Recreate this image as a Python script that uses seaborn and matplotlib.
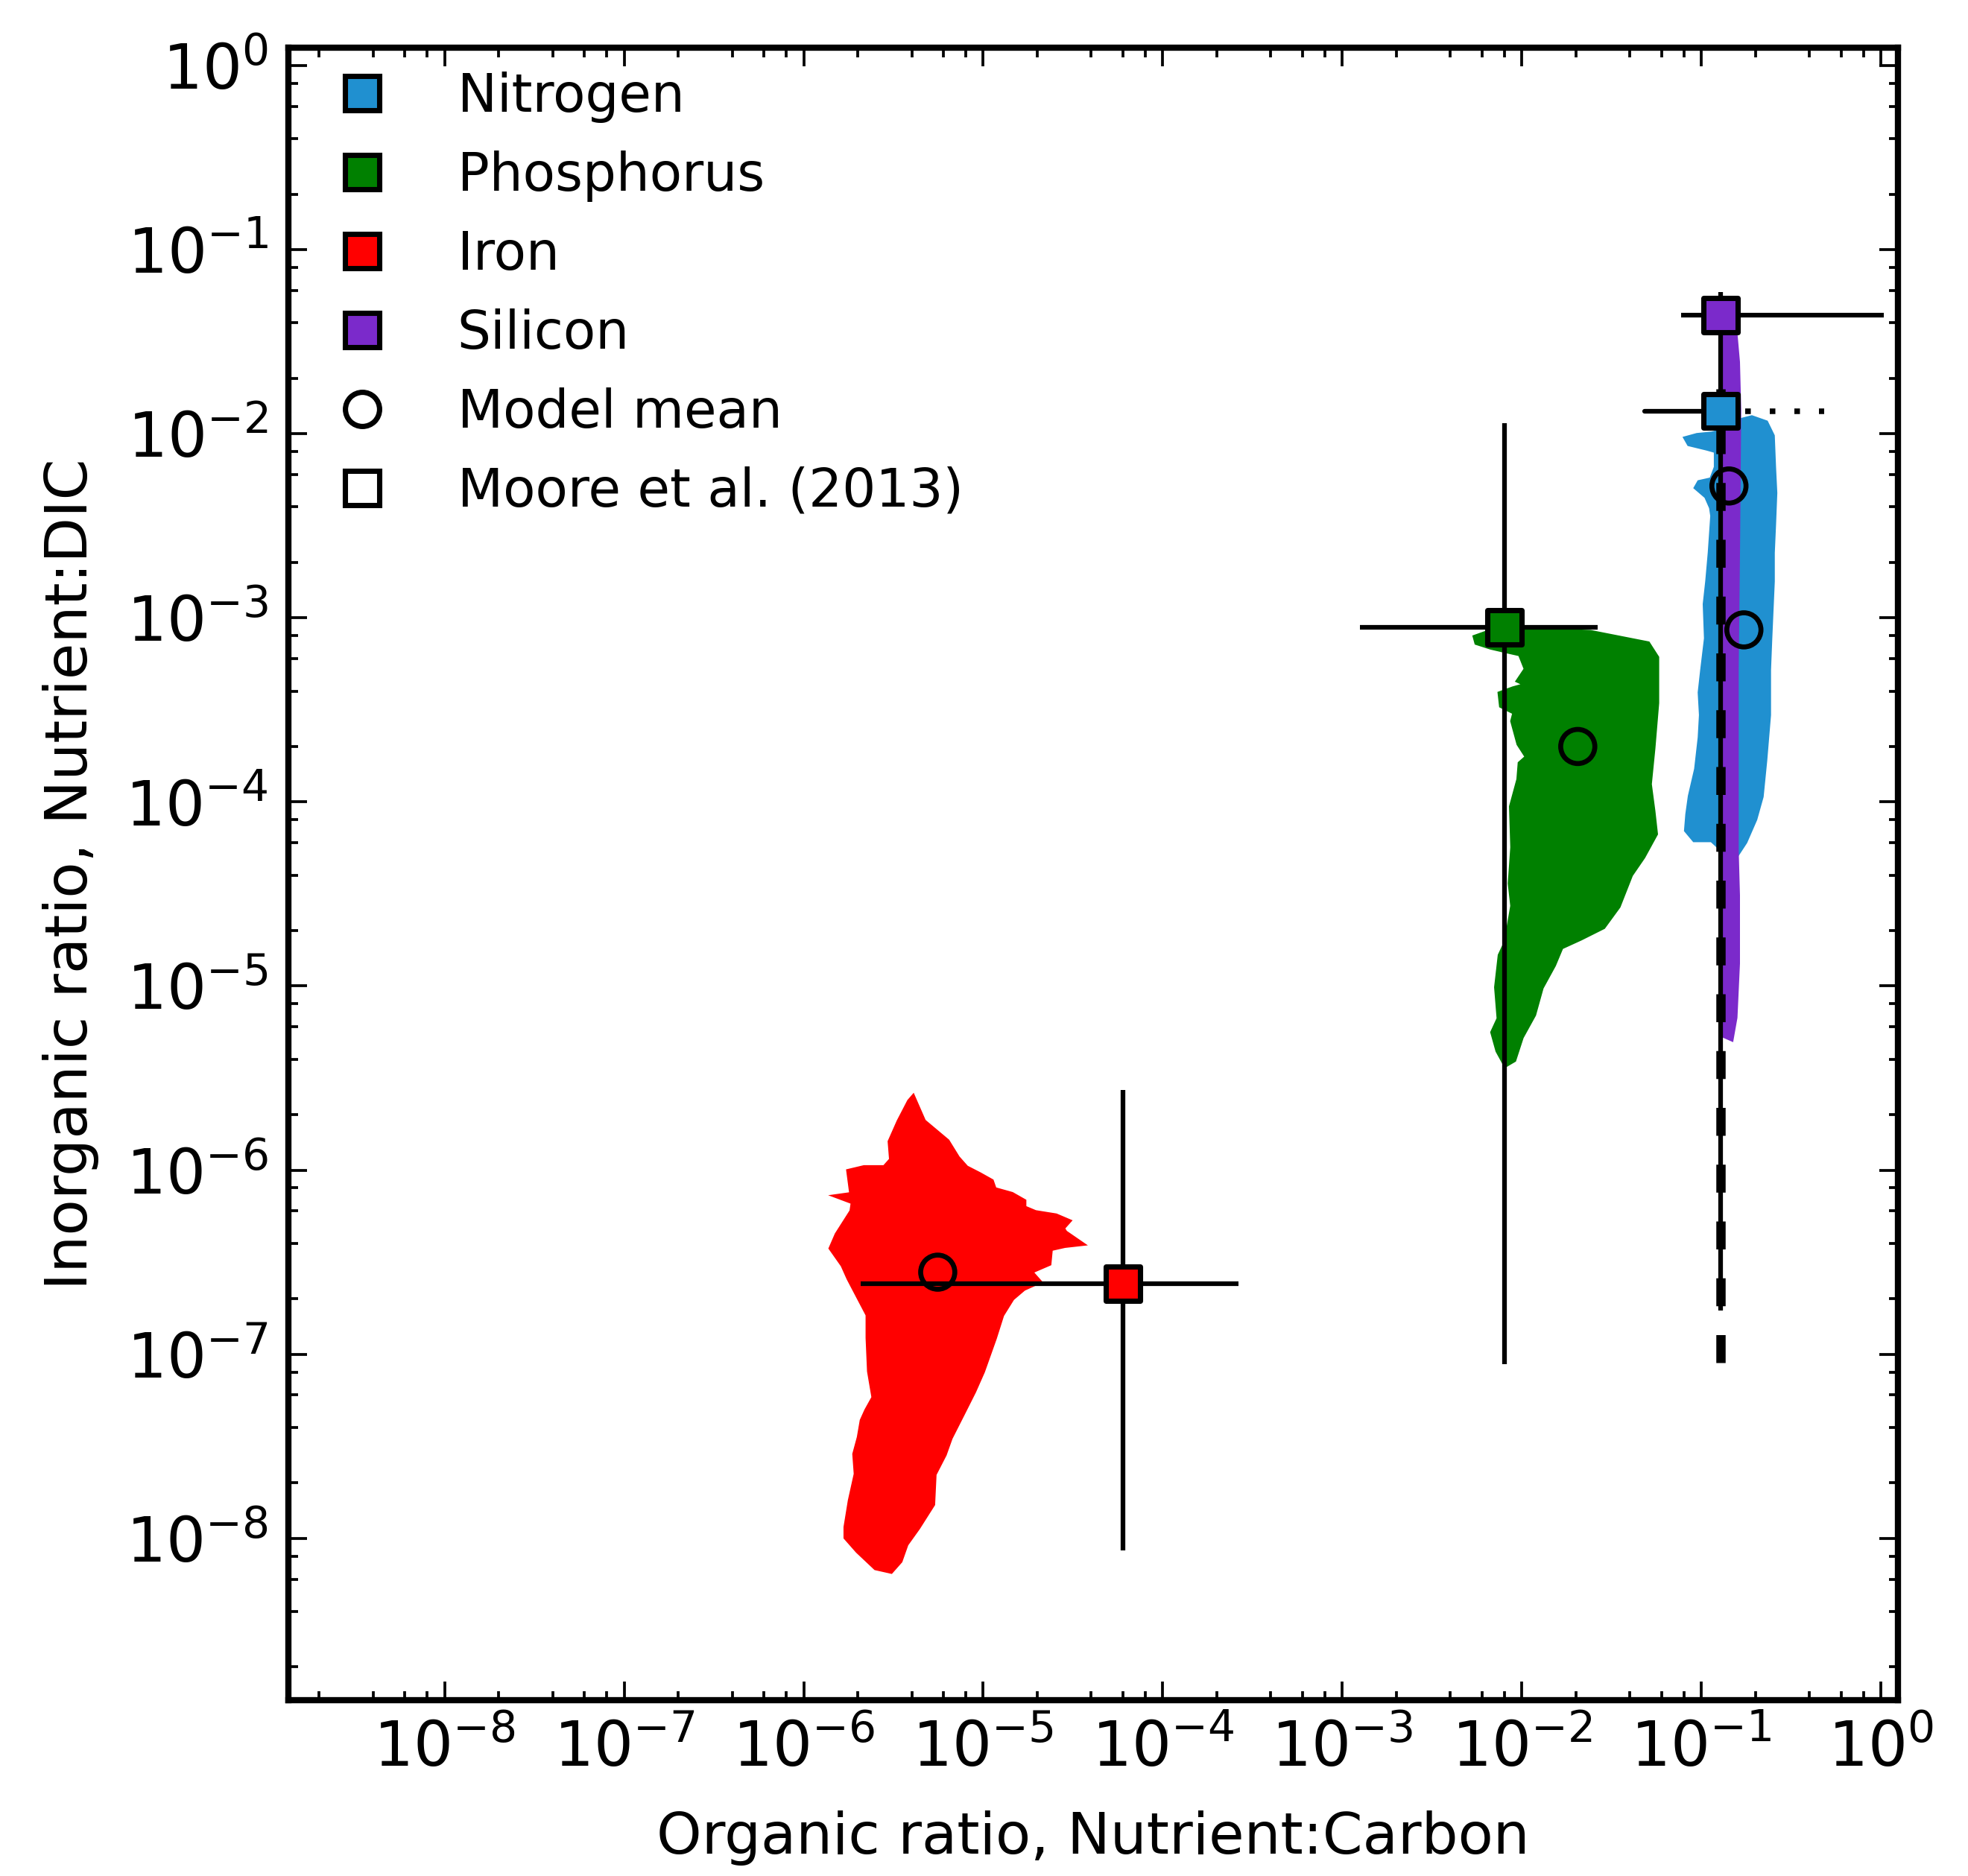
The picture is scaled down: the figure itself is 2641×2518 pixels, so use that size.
import numpy as np
import pandas as pd
import matplotlib
matplotlib.use("Agg")
import matplotlib.pyplot as plt
from matplotlib.lines import Line2D
from matplotlib.ticker import LogLocator, NullFormatter
import seaborn as sns

# nutrients and colours
nutrients = ['Nitrogen', 'Phosphorus', 'Iron', 'Silicon']
colors = ['#2090d0', 'green', 'red', '#7b2acb']

# model mean (organic N:C, inorganic N:DIC)
mean_org = [0.1726, 0.0205, 5.58e-6, 0.1425]
mean_inorg = [8.6e-4, 2.0e-4, 2.79e-7, 5.2e-3]

# Moore et al. (2013) values with ranges
moore_org = [0.128, 8.0e-3, 6.0e-5, 0.128]
moore_inorg = [0.0133, 8.9e-4, 2.42e-7, 0.0442]
moore_org_lo = [0.0484, 1.25e-3, 2.07e-6, 0.0773]
moore_org_hi = [0.484, 0.0265, 2.64e-4, 1.04]
moore_inorg_lo = [9.0e-8, 8.8e-8, 8.6e-9, 1.72e-7]
moore_inorg_hi = [0.0175, 0.0114, 2.72e-6, 0.0587]

# outline of the model point clouds, (log10 organic, log10 inorganic)
n_cloud = [(-0.795, -1.936), (-0.719, -1.917), (-0.643, -1.943), (-0.608, -2.013), (-0.601, -2.183),
           (-0.594, -2.322), (-0.601, -2.493), (-0.608, -2.647), (-0.608, -2.802), (-0.615, -2.957),
           (-0.622, -3.112), (-0.629, -3.283), (-0.629, -3.528), (-0.650, -3.774), (-0.670, -3.970),
           (-0.705, -4.092), (-0.760, -4.215), (-0.809, -4.288), (-0.899, -4.239), (-0.940, -4.202),
           (-1.037, -4.202), (-1.079, -4.153), (-1.072, -4.068), (-1.058, -3.970), (-1.023, -3.823),
           (-1.003, -3.651), (-0.996, -3.528), (-1.003, -3.406), (-0.989, -3.283), (-0.968, -3.112),
           (-0.975, -2.926), (-0.961, -2.802), (-0.947, -2.647), (-0.933, -2.446), (-0.940, -2.400),
           (-0.968, -2.338), (-1.023, -2.292), (-1.009, -2.268), (-0.940, -2.253), (-0.913, -2.183),
           (-0.913, -2.090), (-0.968, -2.075), (-1.065, -2.052), (-1.079, -2.028), (-1.023, -2.013),
           (-0.940, -2.005), (-0.878, -1.990)]
p_cloud = [(-2.255, -3.107), (-2.186, -3.083), (-2.006, -3.083), (-1.895, -3.070), (-1.618, -3.083),
           (-1.300, -3.144), (-1.252, -3.217), (-1.252, -3.463), (-1.273, -3.708), (-1.293, -3.904),
           (-1.273, -4.051), (-1.259, -4.173), (-1.328, -4.296), (-1.397, -4.394), (-1.466, -4.565),
           (-1.549, -4.676), (-1.674, -4.737), (-1.784, -4.786), (-1.826, -4.884), (-1.895, -5.007),
           (-1.937, -5.154), (-2.006, -5.276), (-2.047, -5.399), (-2.089, -5.423), (-2.130, -5.350),
           (-2.158, -5.252), (-2.123, -5.178), (-2.137, -5.007), (-2.117, -4.835), (-2.082, -4.762),
           (-2.047, -4.565), (-2.061, -4.443), (-2.047, -4.247), (-2.054, -4.026), (-2.013, -3.879),
           (-2.006, -3.793), (-1.964, -3.757), (-2.013, -3.683), (-2.047, -3.561), (-2.034, -3.512),
           (-2.110, -3.475), (-2.117, -3.414), (-2.047, -3.389), (-1.958, -3.365), (-2.013, -3.340),
           (-1.971, -3.279), (-2.006, -3.193), (-2.061, -3.181), (-2.172, -3.156), (-2.248, -3.132)]
fe_cloud = [(-5.392, -5.611), (-5.335, -5.738), (-5.269, -5.792), (-5.203, -5.846), (-5.146, -5.936),
            (-5.097, -5.990), (-5.023, -6.027), (-4.957, -6.063), (-4.941, -6.108), (-4.842, -6.135),
            (-4.777, -6.171), (-4.777, -6.207), (-4.711, -6.234), (-4.596, -6.252), (-4.531, -6.279),
            (-4.564, -6.315), (-4.547, -6.342), (-4.465, -6.397), (-4.547, -6.406), (-4.629, -6.424),
            (-4.637, -6.505), (-4.744, -6.550), (-4.695, -6.604), (-4.777, -6.640), (-4.842, -6.694),
            (-4.900, -6.785), (-4.941, -6.911), (-5.007, -7.092), (-5.056, -7.200), (-5.121, -7.326),
            (-5.187, -7.453), (-5.220, -7.543), (-5.277, -7.651), (-5.285, -7.814), (-5.367, -7.940),
            (-5.433, -8.030), (-5.466, -8.121), (-5.515, -8.175), (-5.597, -8.157), (-5.696, -8.066),
            (-5.761, -7.994), (-5.761, -7.940), (-5.737, -7.796), (-5.704, -7.651), (-5.712, -7.543),
            (-5.687, -7.453), (-5.671, -7.362), (-5.646, -7.308), (-5.605, -7.236), (-5.630, -7.092),
            (-5.638, -6.911), (-5.638, -6.785), (-5.687, -6.694), (-5.745, -6.586), (-5.778, -6.514),
            (-5.843, -6.424), (-5.811, -6.352), (-5.728, -6.225), (-5.720, -6.171), (-5.794, -6.144),
            (-5.728, -6.135), (-5.745, -6.009), (-5.663, -5.990), (-5.548, -5.990), (-5.507, -5.945),
            (-5.515, -5.846), (-5.466, -5.738), (-5.408, -5.629)]
si_cloud = [(-0.871, -1.448), (-0.816, -1.456), (-0.802, -1.611), (-0.795, -1.874), (-0.802, -2.648),
            (-0.809, -3.283), (-0.809, -4.264), (-0.802, -4.509), (-0.802, -4.877), (-0.816, -5.171),
            (-0.836, -5.281), (-0.864, -5.269), (-0.874, -5.122), (-0.878, -3.283), (-0.878, -1.456)]
clouds = [n_cloud, p_cloud, fe_cloud, si_cloud]

sns.set_style("ticks")
plt.rcParams['font.family'] = ['DejaVu Sans']
plt.rcParams['text.color'] = 'k'
plt.rcParams['axes.labelcolor'] = 'k'

fig, ax = plt.subplots(figsize=(2641 / 300, 2518 / 300), dpi=300)
fig.subplots_adjust(left=0.1466, right=0.9644, bottom=0.0937, top=0.9746)
ax.set_xscale('log')
ax.set_yscale('log')

# model clouds
for cloud, col in zip(clouds, colors):
    pts = 10 ** np.array(cloud)
    ax.fill(pts[:, 0], pts[:, 1], color=col, lw=2, zorder=1)

# Moore et al. ranges
org = np.array(moore_org)
inorg = np.array(moore_inorg)
xerr = [org - np.array(moore_org_lo), np.array(moore_org_hi) - org]
yerr = [inorg - np.array(moore_inorg_lo), np.array(moore_inorg_hi) - inorg]
for i in [1, 2, 3]:
    ax.errorbar(org[i], inorg[i], xerr=[[xerr[0][i]], [xerr[1][i]]],
                yerr=[[yerr[0][i]], [yerr[1][i]]], fmt='none', ecolor='k',
                elinewidth=1.5, capsize=0, zorder=2)
# nitrogen: upper organic bound dotted, inorganic range dashed
ax.plot([moore_org_lo[0], org[0]], [inorg[0], inorg[0]], color='k', lw=1.5, zorder=2)
ax.plot([org[0], moore_org_hi[0]], [inorg[0], inorg[0]], color='k', lw=1.8,
        ls=(0, (1, 3.4)), zorder=2)
ax.plot([org[0], org[0]], [moore_inorg_lo[0], moore_inorg_hi[0]], color='k', lw=3,
        ls=(0, (3, 3.1)), zorder=2)

df_moore = pd.DataFrame({'org': moore_org, 'inorg': moore_inorg, 'nutrient': nutrients})
sns.scatterplot(data=df_moore, x='org', y='inorg', hue='nutrient', palette=colors,
                marker='s', s=121, edgecolor='k', linewidth=1.7, legend=False, zorder=4, ax=ax)
sns.scatterplot(x=mean_org, y=mean_inorg, marker='o', s=121, facecolors='none',
                edgecolor='k', linewidth=1.6, legend=False, zorder=4, ax=ax)

ax.set_xlim(1.35e-9, 1.245)
ax.set_ylim(1.32e-9, 1.25)

for axis in [ax.xaxis, ax.yaxis]:
    axis.set_major_locator(LogLocator(base=10, numticks=20))
    axis.set_minor_locator(LogLocator(base=10, subs=[2, 4, 6, 8], numticks=20))
    axis.set_minor_formatter(NullFormatter())
ax.tick_params(which='both', direction='in', top=True, right=True, width=0.9, colors='k')
ax.tick_params(which='major', length=6, labelsize=20)
ax.tick_params(axis='x', which='major', pad=6)
ax.tick_params(axis='y', which='major', pad=6.5)
ax.tick_params(which='minor', length=3)
for sp in ax.spines.values():
    sp.set_linewidth(2)
    sp.set_color('k')

ax.set_xlabel('Organic ratio, Nutrient:Carbon', fontsize=18.5, labelpad=10)
ax.set_ylabel('Inorganic ratio, Nutrient:DIC', fontsize=19, labelpad=8.5)

handles = [Line2D([], [], ls='none', marker='s', ms=11, mfc=c, mec='k', mew=1.7) for c in colors]
handles.append(Line2D([], [], ls='none', marker='o', ms=11, mfc='none', mec='k', mew=1.7))
handles.append(Line2D([], [], ls='none', marker='s', ms=11, mfc='none', mec='k', mew=1.7))
labels = nutrients + ['Model mean', 'Moore et al. (2013)']
ax.legend(handles, labels, loc='upper left', bbox_to_anchor=(0.0, 0.9982), borderaxespad=0,
          frameon=False, fontsize=17, labelspacing=0.52, numpoints=1)

plt.savefig('out.png', dpi=300)
